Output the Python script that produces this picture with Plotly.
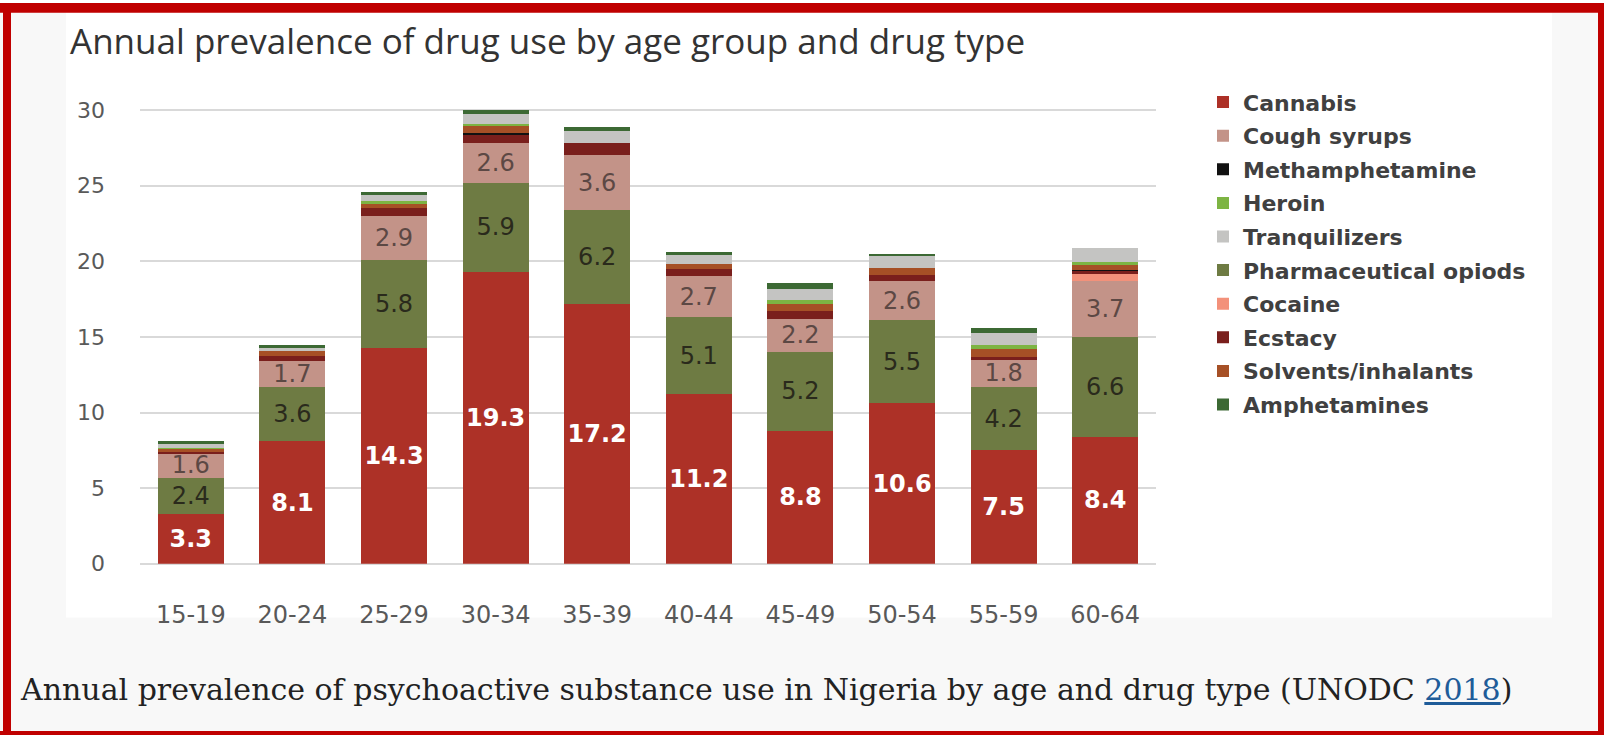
import plotly.graph_objects as go

ages = ["15-19", "20-24", "25-29", "30-34", "35-39", "40-44", "45-49", "50-54", "55-59", "60-64"]

cannabis = [3.3, 8.1, 14.3, 19.3, 17.2, 11.2, 8.8, 10.6, 7.5, 8.4]
pharma_opioids = [2.4, 3.6, 5.8, 5.9, 6.2, 5.1, 5.2, 5.5, 4.2, 6.6]
cough_syrups = [1.6, 1.7, 2.9, 2.6, 3.6, 2.7, 2.2, 2.6, 1.8, 3.7]
cocaine = [0, 0, 0, 0, 0, 0, 0, 0, 0, 0.45]
ecstacy = [0.1, 0.35, 0.5, 0.6, 0.8, 0.5, 0.5, 0.4, 0.2, 0.25]
methamphetamine = [0, 0, 0, 0.1, 0, 0, 0, 0, 0, 0.05]
solvents = [0.2, 0.35, 0.3, 0.5, 0, 0.3, 0.5, 0.45, 0.5, 0.3]
heroin = [0.05, 0, 0.2, 0.1, 0, 0, 0.25, 0, 0.25, 0.2]
tranquilizers = [0.3, 0.2, 0.4, 0.65, 0.85, 0.6, 0.7, 0.85, 0.8, 0.9]
amphetamines = [0.15, 0.15, 0.2, 0.25, 0.25, 0.25, 0.4, 0.05, 0.35, 0]

# (name, values, colour, legend rank, label font)
series = [
    ("Cannabis", cannabis, "#AD3127", 1, dict(color="white", size=24, family="DejaVu Sans", weight="bold")),
    ("Pharmaceutical opiods", pharma_opioids, "#6E7B43", 6, dict(color="#2A2A1C", size=24, family="DejaVu Sans")),
    ("Cough syrups", cough_syrups, "#C39388", 2, dict(color="#5C4844", size=24, family="DejaVu Sans")),
    ("Cocaine", cocaine, "#F3917A", 7, None),
    ("Ecstacy", ecstacy, "#7A1F1C", 8, None),
    ("Methamphetamine", methamphetamine, "#111111", 3, None),
    ("Solvents/inhalants", solvents, "#A65026", 9, None),
    ("Heroin", heroin, "#7DB443", 4, None),
    ("Tranquilizers", tranquilizers, "#C4C4C2", 5, None),
    ("Amphetamines", amphetamines, "#3C6934", 10, None),
]

W, H = 1604, 748
fig = go.Figure()
for name, vals, col, rank, tfont in series:
    kw = {}
    if tfont is not None:
        kw = dict(texttemplate="%{y:.1f}", textposition="inside", insidetextanchor="middle",
                  textangle=0, constraintext="none", insidetextfont=tfont)
    fig.add_trace(go.Bar(x=ages, y=vals, name=name, marker=dict(color=col, line=dict(width=0)),
                         legendrank=rank, legendgroup=name, **kw))

def px_x(p):
    return p / W

def px_y(p):
    return 1 - p / H

shapes = [
    dict(type="rect", xref="paper", yref="paper", x0=0, x1=1, y0=0, y1=1,
         fillcolor="#F8F8F8", line=dict(width=0), layer="below"),
    dict(type="rect", xref="paper", yref="paper", x0=px_x(66), x1=px_x(1552), y0=px_y(628), y1=px_y(10),
         fillcolor="#FFFFFF", line=dict(width=0), layer="below"),
    dict(type="rect", xref="paper", yref="paper", x0=0, x1=1, y0=px_y(10), y1=1,
         fillcolor="#C00000", line=dict(width=0)),
    dict(type="rect", xref="paper", yref="paper", x0=px_x(3), x1=px_x(11), y0=0, y1=1,
         fillcolor="#C00000", line=dict(width=0)),
    dict(type="rect", xref="paper", yref="paper", x0=px_x(1598), x1=1, y0=0, y1=1,
         fillcolor="#C00000", line=dict(width=0)),
    dict(type="rect", xref="paper", yref="paper", x0=0, x1=1, y0=0, y1=px_y(744),
         fillcolor="#C00000", line=dict(width=0)),
]

annotations = [
    dict(text="Annual prevalence of drug use by age group and drug type", xref="paper", yref="paper",
         x=px_x(68), y=px_y(38), xanchor="left", yanchor="middle", showarrow=False,
         font=dict(family="Open Sans", size=35, color="#333333")),
    dict(text="Annual prevalence of psychoactive substance use in Nigeria by age and drug type (UNODC "
              "<span style='color:#1F5C99'><u>2018</u></span>)",
         xref="paper", yref="paper", x=px_x(18), y=px_y(702), xanchor="left", yanchor="middle",
         showarrow=False, font=dict(family="DejaVu Serif", size=30, color="#222222")),
]

fig.update_layout(
    width=W, height=H, autosize=False,
    margin=dict(l=0, r=0, t=0, b=0),
    paper_bgcolor="white", plot_bgcolor="rgba(0,0,0,0)",
    barmode="stack", bargap=0.35,
    shapes=shapes, annotations=annotations,
    showlegend=True,
    legend=dict(x=px_x(1203), y=px_y(80), xanchor="left", yanchor="top",
                traceorder="grouped", tracegroupgap=2, itemwidth=30,
                font=dict(family="DejaVu Sans", size=22, color="#404040", weight="bold"),
                bgcolor="rgba(0,0,0,0)"),
    xaxis=dict(domain=[px_x(140), px_x(1156)], showgrid=False, showline=False, ticks="",
               tickfont=dict(family="DejaVu Sans", size=24, color="#595959"),
               ticklabelstandoff=34),
    yaxis=dict(domain=[px_y(573), px_y(100.2)], range=[0, 30.6], tickvals=[0, 5, 10, 15, 20, 25, 30],
               showgrid=True, gridcolor="#D9D9D9", gridwidth=2, zeroline=True, zerolinecolor="#D9D9D9",
               zerolinewidth=2, showline=False, ticks="",
               tickfont=dict(family="DejaVu Sans", size=22, color="#595959"),
               ticklabelstandoff=34),
)

fig.write_html("out.html")
